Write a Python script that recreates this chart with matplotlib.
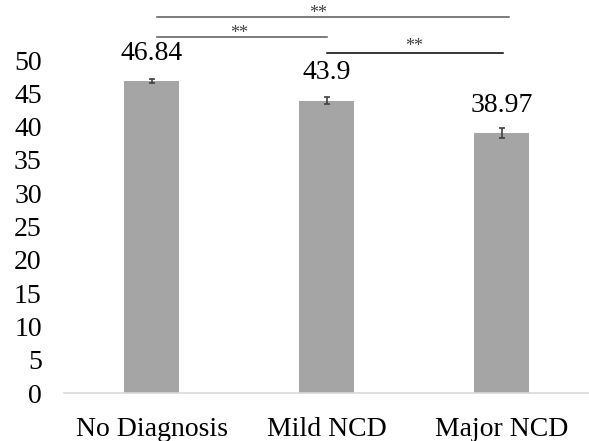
import matplotlib.pyplot as plt

categories = ['No Diagnosis', 'Mild NCD', 'Major NCD']
means = [46.84, 43.9, 38.97]
errors = [0.3, 0.5, 0.75]
labels = ['46.84', '43.9', '38.97']

# significance brackets: (start, end, line y, star y, star x, colour)
brackets = [
    (0.03, 2.04, 56.4, 57.0, 0.95, '#595959'),
    (0.03, 1.0, 53.4, 54.0, 0.5, '#595959'),
    (1.0, 2.01, 51.0, 52.1, 1.5, '#000000'),
]

plt.rcParams['font.family'] = ['Liberation Serif', 'DejaVu Serif']

fig = plt.figure(figsize=(5.89, 4.41), dpi=100)
ax = fig.add_axes([0.1087, 0.1088, 0.8913, 0.7551])

x = range(len(categories))
ax.bar(x, means, width=0.31, color='#a5a5a5', yerr=errors,
       error_kw=dict(ecolor='#404040', elinewidth=1.2, capsize=2.5, capthick=1.2))

for i, (m, lab) in enumerate(zip(means, labels)):
    ax.text(i, m + 2.3, lab, ha='center', va='bottom', fontsize=20)

for x0, x1, ly, sy, sx, col in brackets:
    ax.plot([x0, x1], [ly, ly], color=col, lw=1.1, clip_on=False)
    ax.text(sx, sy, '**', ha='center', va='center', fontsize=13, color='#404040')

ax.set_xlim(-0.5, 2.5)
ax.set_ylim(0, 50)
ax.set_yticks(range(0, 51, 5))
ax.set_xticks(list(x))
ax.set_xticklabels(categories)
ax.tick_params(axis='y', length=0, pad=16, labelsize=20)
ax.tick_params(axis='x', length=0, pad=17, labelsize=20)

for side in ['top', 'right', 'left']:
    ax.spines[side].set_visible(False)
ax.spines['bottom'].set_color('#d9d9d9')
ax.spines['bottom'].set_linewidth(1.2)

plt.savefig('out.png', dpi=100)
